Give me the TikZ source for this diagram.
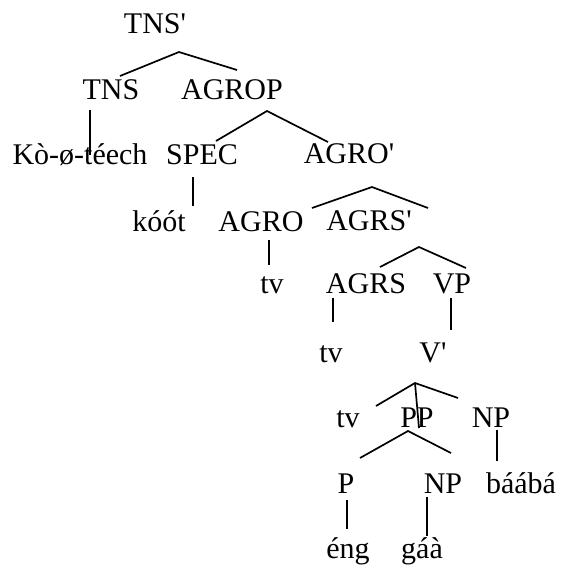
\documentclass[tikz,border=0pt]{standalone}
\usepackage{fontspec}
\setmainfont{Liberation Serif}
\usepackage{tikz}
\usetikzlibrary{positioning}

\begin{document}
\begin{tikzpicture}[
      x=1pt,y=1pt,
      lab/.style={anchor=base,inner sep=0pt,font=\fontsize{30}{36}\selectfont},
      branch/.style={line width=1.7pt}
    ]
    \useasboundingbox (0,0) rectangle (561,-566);

    % labels, placed at their base lines
    \node[lab] (tnsbar)  at (155,-33)  {TNS\textquotesingle};
    \node[lab] (tns)     at (111,-99)  {TNS};
    \node[lab] (agrop)   at (232,-99)  {AGROP};
    \node[lab] (verb)    at (80,-164)  {Kò-ø-téech};
    \node[lab] (spec)    at (202,-164) {SPEC};
    \node[lab] (agrobar) at (349,-163) {AGRO\textquotesingle};
    \node[lab] (koot)    at (159,-231) {kóót};
    \node[lab] (agro)    at (261,-231) {AGRO};
    \node[lab] (agrsbar) at (369,-230) {AGRS\textquotesingle};
    \node[lab] (tvo)     at (272,-293) {tv};
    \node[lab] (agrs)    at (366,-293) {AGRS};
    \node[lab] (vp)      at (452,-293) {VP};
    \node[lab] (tvs)     at (331,-362) {tv};
    \node[lab] (vbar)    at (433,-362) {V\textquotesingle};
    \node[lab] (tvv)     at (348,-427) {tv};
    \node[lab] (pp)      at (417,-427) {PP};
    \node[lab] (np)      at (491,-427) {NP};
    \node[lab] (p)       at (346,-493) {P};
    \node[lab] (npg)     at (443,-493) {NP};
    \node[lab] (baaba)   at (521,-493) {báábá};
    \node[lab] (eng)     at (348,-558) {éng};
    \node[lab] (gaa)     at (422,-558) {gáà};

    % branches
    \draw[branch] ([shift={(9,23)}]tns.base) -- ([shift={(24,-19)}]tnsbar.base)
      -- ([shift={(5,29)}]agrop.base);
    \draw[branch] ([shift={(-21,-11)}]tns.base) -- ([shift={(10,9)}]verb.base);
    \draw[branch] ([shift={(14,23)}]spec.base) -- ([shift={(35,-12)}]agrop.base)
      -- ([shift={(-21,21)}]agrobar.base);
    \draw[branch] ([shift={(-9,-13)}]spec.base) -- ([shift={(34,25)}]koot.base);
    \draw[branch] ([shift={(51,23)}]agro.base) -- ([shift={(23,-24)}]agrobar.base)
      -- ([shift={(59,22)}]agrsbar.base);
    \draw[branch] ([shift={(8,-9)}]agro.base) -- ([shift={(-3,28)}]tvo.base);
    \draw[branch] ([shift={(14,26)}]agrs.base) -- ([shift={(50,-17)}]agrsbar.base)
      -- ([shift={(14,25)}]vp.base);
    \draw[branch] ([shift={(-33,-5)}]agrs.base) -- ([shift={(2,40)}]tvs.base);
    \draw[branch] ([shift={(-1,-5)}]vp.base) -- ([shift={(18,32)}]vbar.base);
    \draw[branch] ([shift={(28,21)}]tvv.base) -- ([shift={(-18,-21)}]vbar.base)
      -- ([shift={(-33,29)}]np.base);
    \draw[branch] ([shift={(-18,-21)}]vbar.base) -- ([shift={(2,-1)}]pp.base);
    \draw[branch] ([shift={(14,35)}]p.base) -- ([shift={(-9,-4)}]pp.base)
      -- ([shift={(8,40)}]npg.base);
    \draw[branch] ([shift={(6,-3)}]np.base) -- ([shift={(-24,32)}]baaba.base);
    \draw[branch] ([shift={(1,-7)}]p.base) -- ([shift={(-1,29)}]eng.base);
    \draw[branch] ([shift={(-16,-4)}]npg.base) -- ([shift={(5,22)}]gaa.base);
  \end{tikzpicture}
\end{document}
